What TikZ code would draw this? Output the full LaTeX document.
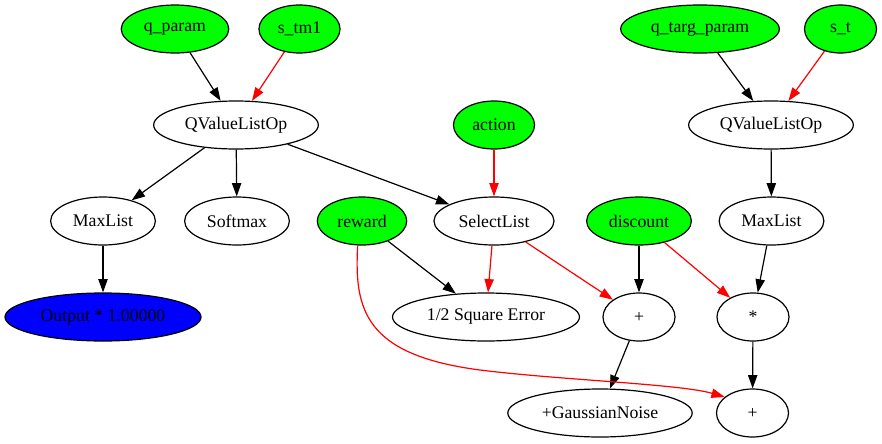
\documentclass[tikz,border=0pt]{standalone}
\usepackage{fontspec}
\setmainfont{Liberation Serif}
\usetikzlibrary{shapes.geometric,arrows.meta}

\begin{document}
\begin{tikzpicture}[x=0.75pt, y=-0.75pt, font=\fontsize{13.3}{16}\selectfont,
        op/.style={ellipse, draw, line width=0.9pt, inner xsep=5.25pt, inner ysep=2pt,
                   minimum width=54pt, minimum height=36pt},
        inp/.style={op, fill=green},
        outbox/.style={op, fill=blue},
        link/.style={-{Triangle[length=10pt,width=7pt]}, line width=0.9pt},
        redlink/.style={link, red}]
    \useasboundingbox (0,0) rectangle (882,443);
    % inputs and layers
    \node[inp] (qparam) at (175,29) {q\_param};
    \node[inp] (stm1) at (299.5,29) {s\_tm1};
    \node[inp] (qtarg) at (700,29) {q\_targ\_param};
    \node[inp] (st) at (840.5,29) {s\_t};
    \node[op] (qvl) at (236,125) {QValueListOp};
    \node[inp] (action) at (494,125) {action};
    \node[op] (qvlt) at (771,125) {QValueListOp};
    \node[op] (maxl) at (103,221) {MaxList};
    \node[op] (softmax) at (237,221) {Softmax};
    \node[inp] (reward) at (362,221) {reward};
    \node[op] (select) at (494,221) {SelectList};
    \node[inp] (discount) at (639,221) {discount};
    \node[op] (maxlt) at (771.5,221) {MaxList};
    \node[outbox] (output) at (103,317) {Output * 1.00000};
    \node[op] (sqerr) at (486,317) {1/2 Square Error};
    \node[op] (plus) at (639,317) {+};
    \node[op] (times) at (753,317) {*};
    \node[op] (noise) at (600,413) {+GaussianNoise};
    \node[op] (sum) at (752.5,413) {+};
    \coordinate (bend) at (480,370);
    % connections
    \draw[link] (qparam) -- (qvl);
    \draw[redlink] (stm1) -- (qvl);
    \draw[link] (qtarg) -- (qvlt);
    \draw[redlink] (st) -- (qvlt);
    \draw[link] (qvl) -- (maxl);
    \draw[link] (qvl) -- (softmax);
    \draw[link] (qvl) -- (select);
    \draw[redlink] (action) -- (select);
    \draw[link] (qvlt) -- (maxlt);
    \draw[link] (maxl) -- (output);
    \draw[link] (reward) -- (sqerr);
    \draw[redlink] (select) -- (sqerr);
    \draw[redlink] (select) -- (plus);
    \draw[link] (discount) -- (plus);
    \draw[redlink] (discount) -- (times);
    \draw[link] (maxlt) -- (times);
    \draw[link] (plus) -- (noise);
    \draw[link] (times) -- (sum);
    \draw[redlink] (reward.260) .. controls (354,310) and (365,355) .. (bend)
        .. controls (560,380) and (680,384) .. (sum.150);
\end{tikzpicture}
\end{document}
